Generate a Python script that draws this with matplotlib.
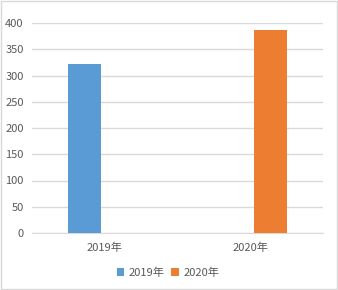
import numpy as np
import matplotlib
matplotlib.use("Agg")
import matplotlib.pyplot as plt
from matplotlib.patches import Rectangle

plt.rcParams['font.family'] = ['Noto Sans CJK SC', 'DejaVu Sans']

categories = ['2019年', '2020年']
series_names = ['2019年', '2020年']
values_2019 = [322, 0]
values_2020 = [0, 387]
colors = ['#5B9BD5', '#ED7D31']

fig = plt.figure(figsize=(3.38, 2.90), dpi=100)
fig.patches.append(Rectangle((0.002, 0.002), 0.995, 0.994, transform=fig.transFigure,
                             fill=False, edgecolor='#D9D9D9', linewidth=1))
ax = fig.add_axes([32 / 338, 57 / 290, 291 / 338, 210 / 290])

x = np.arange(len(categories))
w = 0.227
off = 0.139
ax.bar(x - off, values_2019, width=w, color=colors[0], label=series_names[0], zorder=3)
ax.bar(x + off, values_2020, width=w, color=colors[1], label=series_names[1], zorder=3)

ax.set_xlim(-0.5, 1.5)
ax.set_ylim(0, 400)
ax.set_yticks(np.arange(0, 401, 50))
ax.set_xticks(x)
ax.set_xticklabels(categories)
ax.grid(axis='y', color='#D9D9D9', linewidth=1, zorder=0)
for s in ['top', 'right', 'left']:
    ax.spines[s].set_visible(False)
ax.spines['bottom'].set_color('#D9D9D9')
ax.tick_params(axis='both', length=0, labelsize=8, labelcolor='#595959')
ax.tick_params(axis='y', pad=6)
ax.tick_params(axis='x', pad=7)

fig.legend(loc='center', bbox_to_anchor=(168 / 338, 1 - 273 / 290), ncol=2, frameon=False,
           fontsize=8, labelcolor='#595959', handlelength=0.7, handleheight=0.7,
           handletextpad=0.4, columnspacing=0.6)

fig.savefig('out.png', dpi=100)
